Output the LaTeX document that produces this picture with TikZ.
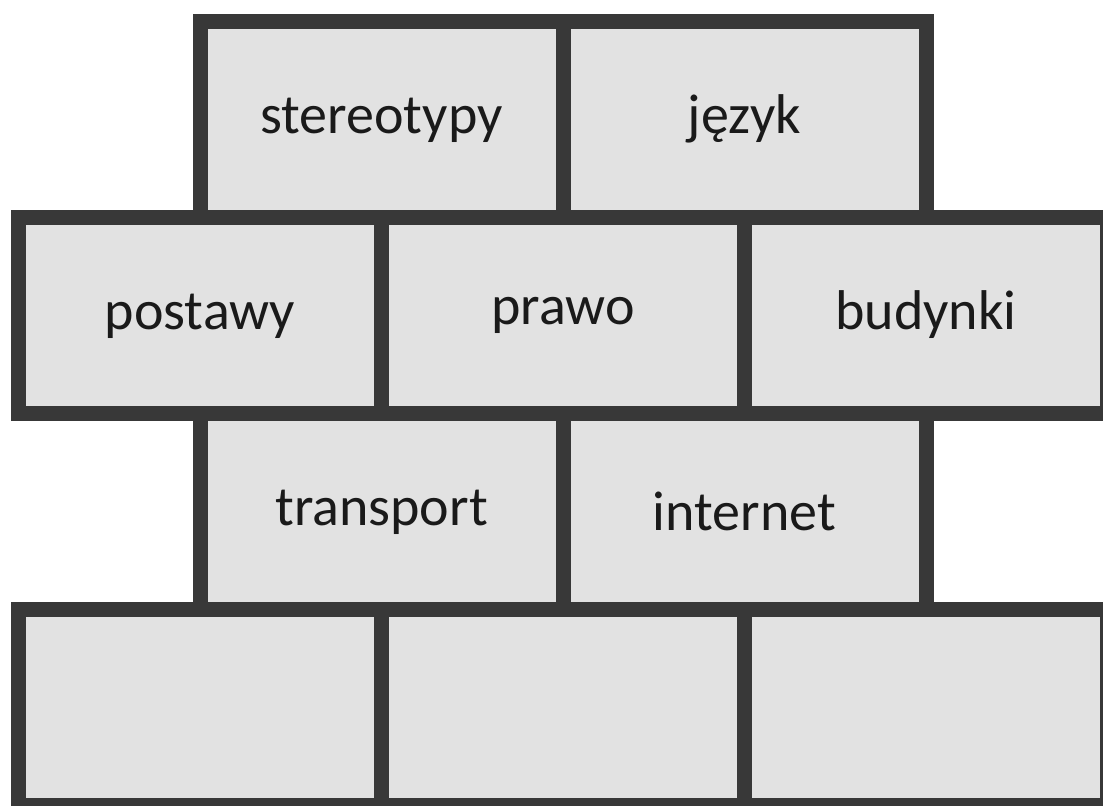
\documentclass[tikz,border=0pt]{standalone}
\usepackage{fontspec}
\setmainfont{Carlito}
\usepackage{xcolor}
\usepackage{tikz}
\usetikzlibrary{positioning}
\definecolor{mortar}{HTML}{383838}
\definecolor{brickFill}{HTML}{E2E2E2}
\definecolor{inkText}{HTML}{1A1A1A}

\begin{document}
\begin{tikzpicture}[
  x=0.5pt, y=-0.5pt,
  node distance=0pt,
  brick/.style={rectangle, draw=mortar, fill=brickFill, line width=7.5pt,
    minimum width=181.5pt, minimum height=98pt, inner sep=0pt, outer sep=0pt,
    text=inkText, text height=14pt, text depth=0pt,
    font=\fontsize{28pt}{34pt}\selectfont},
]
  \useasboundingbox (0,0) rectangle (1103,805);

  % top row
  \node[brick] (stereo) at (381.5,119.5) {stereotypy};
  \node[brick, right=of stereo] (jezyk) {język};

  % second row
  \node[brick, anchor=north east] (postawy) at (stereo.south) {postawy};
  \node[brick, right=of postawy] (prawo) {\raisebox{2.5pt}{prawo}};
  \node[brick, right=of prawo] (budynki) {budynki};

  % third row
  \node[brick, anchor=north west] (transport) at (postawy.south) {transport};
  \node[brick, right=of transport] (internet) {\raisebox{-2.5pt}{internet}};

  % bottom row, empty
  \node[brick, anchor=north east] (baseA) at (transport.south) {};
  \node[brick, right=of baseA] (baseB) {};
  \node[brick, right=of baseB] (baseC) {};
\end{tikzpicture}
\end{document}
